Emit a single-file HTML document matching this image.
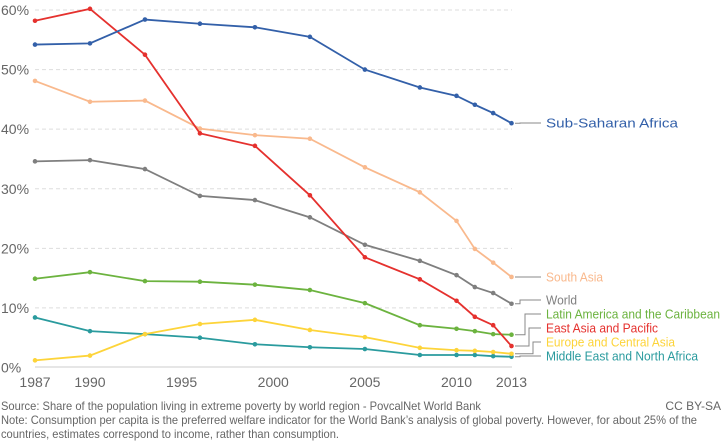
<!DOCTYPE html>
<html><head><meta charset="utf-8"><style>
html,body{margin:0;padding:0;background:#fff;}
svg{display:block;font-family:"Liberation Sans",sans-serif;}
</style></head><body>
<svg id="chart" width="724" height="441" viewBox="0 0 724 441">
<g id="grid"></g>
<g id="axes"></g>
<g id="series"></g>
<g id="labels"></g>
<text x="1" y="410" font-size="12" fill="#666" textLength="480" lengthAdjust="spacingAndGlyphs">Source: Share of the population living in extreme poverty by world region - PovcalNet World Bank</text>
<text x="721" y="410" font-size="12" fill="#666" text-anchor="end">CC BY-SA</text>
<text x="1" y="424" font-size="12" fill="#666" textLength="696" lengthAdjust="spacingAndGlyphs">Note: Consumption per capita is the preferred welfare indicator for the World Bank’s analysis of global poverty. However, for about 25% of the</text>
<text x="1" y="438" font-size="12" fill="#666" textLength="338" lengthAdjust="spacingAndGlyphs">countries, estimates correspond to income, rather than consumption.</text>
</svg>
<script>
const years = [1987,1990,1993,1996,1999,2002,2005,2008,2010,2011,2012,2013];
const ssa  = [54.2,54.4,58.4,57.7,57.1,55.5,50.0,47.0,45.6,44.1,42.7,41.0];
const sa   = [48.1,44.6,44.8,40.1,39.0,38.4,33.6,29.4,24.6,19.9,17.6,15.2];
const eap  = [58.2,60.2,52.5,39.3,37.2,28.9,18.5,14.8,11.2,8.5,7.1,3.6];
const world= [34.6,34.8,33.3,28.8,28.1,25.2,20.6,17.9,15.5,13.5,12.5,10.7];
const lac  = [14.9,16.0,14.5,14.4,13.9,13.0,10.8,7.1,6.5,6.1,5.6,5.5];
const eca  = [1.2,2.0,5.6,7.3,8.0,6.3,5.1,3.3,2.9,2.8,2.6,2.3];
const mena = [8.4,6.1,5.6,5.0,3.9,3.4,3.1,2.1,2.1,2.1,1.9,1.8];
const seriesNames = ["Sub-Saharan Africa","South Asia","World","Latin America and the Caribbean","East Asia and Pacific","Europe and Central Asia","Middle East and North Africa"];
const yTicks = [0,10,20,30,40,50,60];
const xTicks = [1987,1990,1995,2000,2005,2010,2013];

const NS="http://www.w3.org/2000/svg";
const x = y => 35 + (y-1987)*(476.5/26);
const yS = v => 367.5 - v*5.958;
function mk(tag, attrs, parent){const e=document.createElementNS(NS,tag);for(const k in attrs)e.setAttribute(k,attrs[k]);parent.appendChild(e);return e;}
const grid=document.getElementById('grid'), axes=document.getElementById('axes'), ser=document.getElementById('series'), lab=document.getElementById('labels');

yTicks.forEach(t=>{
  if(t>0){const l=mk('line',{x1:35,x2:512,y1:yS(t),y2:yS(t),stroke:'#ddd','stroke-dasharray':'4,3'},grid);
  
  }
  const tx=mk('text',{x:1,y:yS(t)+5,'font-size':14,fill:'#666'},axes);
  tx.textContent=t+'%';
  
  
});
const ax=mk('line',{x1:35,x2:512,y1:367,y2:367,stroke:'#ccc','stroke-width':1},axes);


xTicks.forEach(t=>{
  const tx=mk('text',{x:x(t),y:387,'font-size':14,fill:'#666','text-anchor':'middle'},axes);
  tx.textContent=t;
  
  
});

const colors=['#3360a9','#f9b98d','#7f7f7f','#6cb33f','#e5312e','#fdd43a','#2a9b9e'];
const data=[ssa,sa,world,lac,eap,eca,mena];
const labelY=[123,277,300,314,328,342,356];
const labelW=[132,57,31,174,112,129,152];
const elbowX=[520,520,520,525,529,533,520];
const order=[6,5,3,1,2,4,0];
order.forEach(i=>{
  const vals=data[i];
  const g=mk('g',{},ser);
  
  
  const pts=years.map((yr,j)=>x(yr)+','+yS(vals[j])).join(' ');
  const pl=mk('polyline',{points:pts,fill:'none',stroke:colors[i],'stroke-width':1.8},g);
  
  
  years.forEach((yr,j)=>{
    const c=mk('circle',{cx:x(yr),cy:yS(vals[j]),r:2.3,fill:colors[i]},g);
    
    
  });
});
seriesNames.forEach((n,i)=>{
  const ey=yS(data[i][data[i].length-1]);
  const ly=labelY[i];
  const ex=elbowX[i];
  const p=mk('polyline',{points:`515,${ey} ${ex},${ey} ${ex},${ly} 541,${ly}`,fill:'none',stroke:'#888','stroke-width':1},lab);
  
  
  const t=mk('text',{x:546,y:ly+4.5,'font-size':12.5,fill:colors[i],textLength:labelW[i],lengthAdjust:'spacingAndGlyphs'},lab);
  t.textContent=n;
  
  
});
</script>
</body></html>
